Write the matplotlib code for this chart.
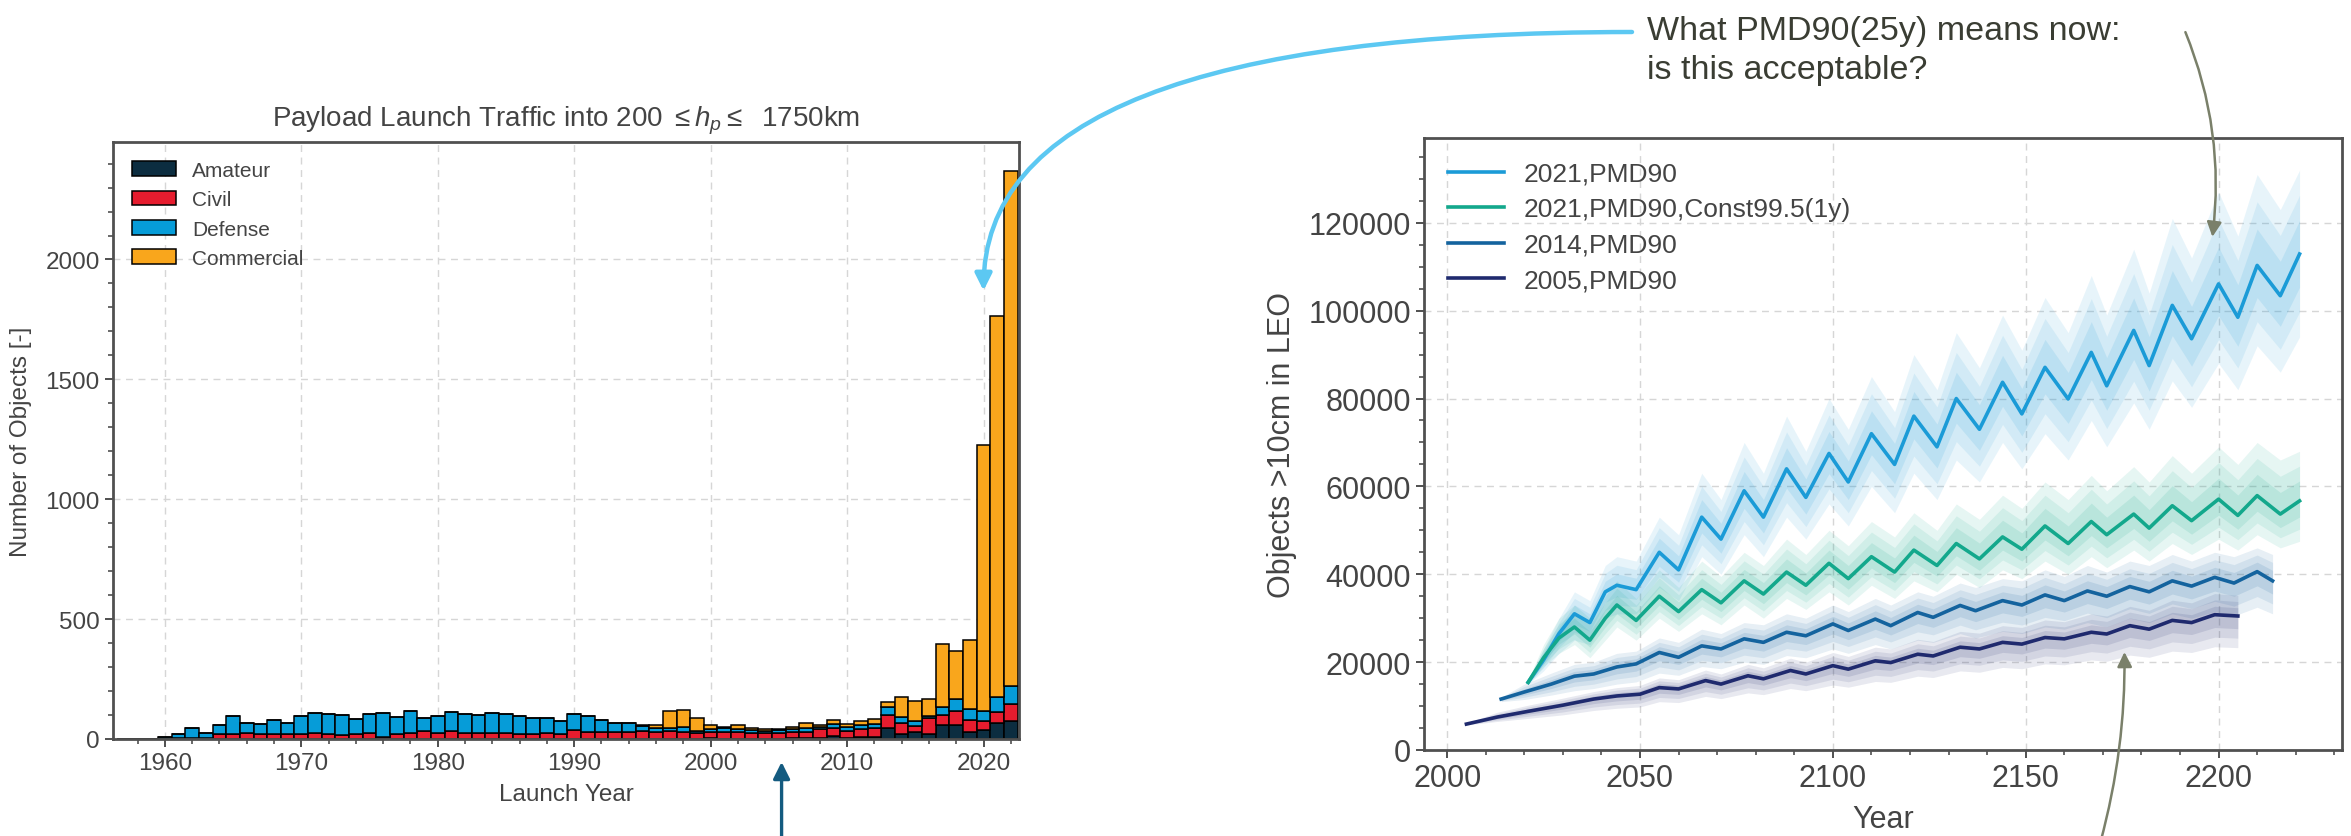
import matplotlib.pyplot as plt
import numpy as np
from matplotlib.ticker import MultipleLocator

plt.rcParams['font.family'] = ['Liberation Sans', 'DejaVu Sans']
plt.rcParams['mathtext.fontset'] = 'custom'
plt.rcParams['mathtext.rm'] = 'Liberation Sans'
plt.rcParams['mathtext.it'] = 'Liberation Sans:italic'

# ---------------- left panel: payload launches per year ----------------
launch_years = list(range(1957, 2023))
amateur = [0, 0, 0, 0, 1, 0, 1, 1, 1, 0,
           1, 0, 0, 1, 0, 1, 0, 1, 0, 0,
           1, 0, 0, 0, 0, 0, 0, 0, 0, 1,
           0, 1, 0, 1, 1, 0, 1, 0, 1, 0,
           1, 0, 0, 3, 2, 2, 2, 2, 2, 3,
           3, 6, 13, 6, 10, 10, 44, 22, 28, 20,
           58, 60, 30, 36, 68, 77]
civil = [0, 0, 0, 2, 3, 4, 3, 20, 20, 26,
         20, 20, 21, 19, 26, 20, 15, 19, 26, 8,
         20, 26, 32, 26, 32, 25, 25, 25, 25, 20,
         20, 25, 20, 35, 30, 31, 30, 31, 32, 31,
         32, 31, 26, 25, 29, 29, 24, 24, 22, 25,
         27, 34, 34, 29, 33, 36, 58, 46, 26, 66,
         42, 57, 48, 37, 43, 69]
defense = [0, 1, 1, 6, 18, 43, 22, 39, 75, 42,
           43, 58, 45, 78, 81, 82, 87, 62, 77, 99,
           72, 90, 57, 72, 82, 78, 74, 84, 80, 77,
           69, 63, 56, 67, 65, 47, 37, 37, 22, 16,
           14, 20, 7, 13, 14, 10, 10, 7, 12, 12,
           16, 11, 17, 14, 14, 18, 31, 24, 21, 8,
           34, 51, 46, 45, 65, 77]
commercial = [0, 0, 0, 0, 0, 0, 0, 0, 0, 0,
              0, 0, 0, 0, 0, 0, 0, 0, 0, 0,
              0, 0, 0, 0, 0, 0, 0, 0, 0, 0,
              0, 0, 0, 0, 0, 0, 0, 0, 4, 12,
              70, 70, 56, 18, 7, 16, 11, 7, 4, 12,
              22, 8, 14, 15, 20, 18, 22, 85, 85, 71,
              262, 198, 287, 1110, 1589, 2146]
categories = ['Amateur', 'Civil', 'Defense', 'Commercial']
cat_colors = ['#0c2d40', '#e61c2e', '#069cd8', '#f9a61c']

# ---------------- right panel: LEO population projections (thousands) ----------------
yrs_2021 = [2021, 2025, 2029, 2033, 2037, 2041, 2044, 2049, 2055, 2060,
            2066, 2071, 2077, 2082, 2088, 2093, 2099, 2104, 2110, 2116,
            2121, 2127, 2132, 2138, 2144, 2149, 2155, 2161, 2167, 2171,
            2178, 2182, 2188, 2193, 2200, 2205, 2210, 2216, 2221]
pmd90_2021 = [15.4, 20.5, 26.5, 31.0, 29.0, 36.0, 37.5, 36.5, 45.0, 41.0,
              53.0, 48.0, 59.0, 53.0, 64.0, 57.5, 67.5, 61.0, 72.0, 65.0,
              76.0, 69.0, 80.0, 73.0, 83.7, 76.5, 87.1, 79.9, 90.5, 82.9,
              95.5, 87.5, 101.2, 93.6, 106.1, 98.5, 110.3, 103.4, 112.9]
pmd90_2021_lo = [15.0, 18.0, 22.0, 25.0, 24.0, 30.0, 31.0, 31.0, 37.0, 34.0,
                 44.0, 40.0, 49.0, 44.0, 53.0, 48.0, 56.0, 51.0, 60.0, 54.0,
                 63.0, 57.0, 66.0, 61.0, 70.0, 64.0, 72.0, 66.0, 75.0, 69.0,
                 79.0, 73.0, 84.0, 78.0, 88.0, 82.0, 92.0, 86.0, 94.0]
pmd90_2021_hi = [16.0, 23.0, 30.0, 36.0, 34.0, 42.0, 44.0, 43.0, 53.0, 49.0,
                 63.0, 57.0, 70.0, 63.0, 76.0, 68.0, 80.0, 73.0, 85.0, 77.0,
                 90.0, 82.0, 95.0, 87.0, 99.0, 91.0, 103.0, 95.0, 108.0, 99.0,
                 114.0, 104.0, 121.0, 112.0, 127.0, 117.0, 131.0, 123.0, 132.0]
const_2021 = [15.4, 21.0, 25.5, 28.0, 25.0, 30.0, 33.0, 29.5, 35.0, 31.5,
              36.5, 33.5, 38.5, 35.5, 40.5, 37.5, 42.5, 39.0, 44.0, 40.5,
              45.5, 42.0, 47.0, 43.5, 48.5, 45.7, 51.0, 47.0, 52.0, 49.0,
              53.7, 50.5, 55.6, 52.2, 57.1, 53.4, 57.9, 53.7, 56.7]
const_2021_lo = [15.0, 19.0, 22.0, 24.0, 21.0, 25.0, 28.0, 25.0, 30.0, 27.0,
                 31.0, 28.5, 33.0, 30.0, 34.5, 32.0, 36.0, 33.0, 37.5, 34.5,
                 38.5, 36.0, 40.0, 37.0, 41.0, 39.0, 43.0, 40.0, 44.0, 41.5,
                 45.5, 43.0, 47.0, 44.5, 48.0, 45.5, 49.0, 46.0, 47.5]
const_2021_hi = [16.0, 24.0, 30.0, 33.0, 30.0, 35.0, 38.5, 34.5, 41.0, 37.0,
                 43.0, 39.5, 45.0, 42.0, 48.0, 44.5, 50.0, 46.5, 52.0, 48.5,
                 54.0, 50.0, 56.0, 52.5, 58.0, 55.0, 61.0, 57.0, 62.5, 59.0,
                 64.5, 61.0, 67.0, 63.0, 69.0, 65.0, 70.0, 66.0, 68.0]

yrs_2014 = [2014, 2020, 2027, 2033, 2038, 2044, 2049, 2055, 2060, 2066,
            2071, 2077, 2082, 2088, 2093, 2100, 2104, 2111, 2115, 2122,
            2126, 2133, 2137, 2144, 2149, 2155, 2160, 2166, 2171, 2177,
            2182, 2188, 2193, 2199, 2204, 2210, 2214]
pmd90_2014 = [11.6, 13.2, 15.0, 16.8, 17.3, 18.9, 19.6, 22.2, 21.1, 23.7,
              23.0, 25.3, 24.5, 26.8, 26.0, 28.7, 27.2, 29.8, 28.3, 31.3,
              30.2, 32.9, 31.7, 34.0, 33.0, 35.3, 34.0, 36.2, 35.0, 37.2,
              36.0, 38.5, 37.3, 39.3, 38.0, 40.6, 38.5]
pmd90_2014_lo = [11.0, 11.5, 12.5, 13.5, 14.0, 15.0, 15.5, 17.5, 17.0, 19.0,
                 18.5, 20.0, 19.5, 21.5, 21.0, 23.0, 22.0, 24.0, 23.0, 25.0,
                 24.5, 26.5, 25.5, 27.0, 26.5, 28.0, 27.5, 29.0, 28.0, 30.0,
                 29.0, 31.0, 30.0, 31.5, 30.5, 32.5, 31.0]
pmd90_2014_hi = [12.0, 15.0, 17.5, 19.5, 20.0, 22.0, 22.5, 25.5, 24.5, 27.5,
                 26.5, 29.0, 28.5, 31.0, 30.0, 33.0, 31.5, 34.5, 33.0, 36.0,
                 35.0, 38.0, 37.0, 39.0, 38.5, 41.0, 39.5, 42.0, 40.5, 43.0,
                 42.0, 44.5, 43.0, 45.0, 44.0, 46.0, 44.5]

yrs_2005 = [2005, 2013, 2021, 2030, 2038, 2044, 2050, 2055, 2060, 2067,
            2071, 2078, 2082, 2089, 2093, 2100, 2104, 2111, 2115, 2122,
            2126, 2133, 2138, 2144, 2149, 2155, 2160, 2167, 2171, 2177,
            2182, 2188, 2193, 2199, 2205]
pmd90_2005 = [5.9, 7.5, 8.8, 10.2, 11.6, 12.3, 12.7, 14.2, 13.9, 15.8,
              15.0, 16.9, 16.2, 18.1, 17.3, 19.2, 18.4, 20.3, 19.9, 21.8,
              21.4, 23.4, 23.0, 24.5, 24.1, 25.6, 25.3, 26.8, 26.4, 28.3,
              27.5, 29.5, 29.0, 30.8, 30.5]
pmd90_2005_lo = [5.7, 6.5, 7.2, 8.0, 9.0, 9.5, 9.8, 11.0, 10.8, 12.2,
                 11.7, 13.0, 12.6, 14.0, 13.5, 14.8, 14.3, 15.6, 15.4, 16.8,
                 16.5, 18.0, 17.7, 18.8, 18.5, 19.6, 19.4, 20.5, 20.2, 21.6,
                 21.1, 22.5, 22.2, 23.5, 23.3]
pmd90_2005_hi = [6.1, 8.6, 10.2, 11.8, 13.3, 14.2, 14.7, 16.4, 16.0, 18.2,
                 17.3, 19.5, 18.7, 20.9, 20.0, 22.2, 21.3, 23.4, 23.0, 25.2,
                 24.7, 27.0, 26.6, 28.3, 27.9, 29.6, 29.2, 31.0, 30.5, 32.7,
                 31.8, 34.1, 33.5, 35.6, 35.2]

scenario_labels = ['2021,PMD90', '2021,PMD90,Const99.5(1y)', '2014,PMD90', '2005,PMD90']
scenario_colors = ['#1b9bd7', '#13a88c', '#14639e', '#1f2a6e']

# ---------------- figure ----------------
W, H = 2351, 837
fig = plt.figure(figsize=(W / 100, H / 100), dpi=100)
ax1 = fig.add_axes([113 / W, 97 / H, 906 / W, 597 / H])
ax2 = fig.add_axes([1424 / W, 86 / H, 918 / W, 612 / H])

txt_col = '#444444'
spine_col = '#505050'


def style_axes(ax, lab_size):
    for s in ax.spines.values():
        s.set_color(spine_col)
        s.set_linewidth(2.0)
    ax.tick_params(which='both', direction='out', color=spine_col, labelcolor=txt_col,
                   labelsize=lab_size, top=False, right=False)
    ax.tick_params(which='major', length=6, width=1.4)
    ax.tick_params(which='minor', length=3.5, width=1.2)
    ax.grid(True, which='major', linestyle=(0, (5, 4)), color='#d6d6d6', linewidth=1.0)
    ax.set_axisbelow(True)


# left: stacked bars
bottom = np.zeros(len(launch_years))
for name, vals, col in zip(categories, [amateur, civil, defense, commercial], cat_colors):
    ax1.bar(launch_years, vals, width=1.0, bottom=bottom, color=col,
            edgecolor='black', linewidth=1.1, label=name)
    bottom = bottom + np.array(vals)

style_axes(ax1, 17.5)
ax1.set_xlim(1956.2, 2022.6)
ax1.set_ylim(0, 2490)
ax1.xaxis.set_major_locator(MultipleLocator(10))
ax1.xaxis.set_minor_locator(MultipleLocator(2))
ax1.yaxis.set_major_locator(MultipleLocator(500))
ax1.yaxis.set_minor_locator(MultipleLocator(100))
ax1.set_xlabel('Launch Year', fontsize=17.5, color=txt_col, labelpad=6)
ax1.set_ylabel('Number of Objects [-]', fontsize=17.5, color=txt_col, labelpad=10)
ax1.set_title(r'Payload Launch Traffic into 200 $\leq h_p \leq$  1750km',
              fontsize=20, color=txt_col, pad=12)
ax1.legend(loc='upper left', fontsize=15, frameon=False, handlelength=2.1,
           handleheight=0.7, labelcolor=txt_col)

# right: projections with ensemble spread (three shading layers to mimic the run cloud)
ens = [(yrs_2021, pmd90_2021, pmd90_2021_lo, pmd90_2021_hi),
       (yrs_2021, const_2021, const_2021_lo, const_2021_hi),
       (yrs_2014, pmd90_2014, pmd90_2014_lo, pmd90_2014_hi),
       (yrs_2005, pmd90_2005, pmd90_2005_lo, pmd90_2005_hi)]
for (yr, m, lo, hi), col in zip(ens, scenario_colors):
    yr = np.array(yr)
    m = np.array(m) * 1000
    lo = np.array(lo) * 1000
    hi = np.array(hi) * 1000
    for frac, a in [(1.0, 0.10), (0.7, 0.10), (0.4, 0.12)]:
        ax2.fill_between(yr, m - frac * (m - lo), m + frac * (hi - m),
                         color=col, alpha=a, linewidth=0)
for (yr, m, lo, hi), col, lab in zip(ens, scenario_colors, scenario_labels):
    ax2.plot(yr, np.array(m) * 1000, color=col, lw=2.6, label=lab)

style_axes(ax2, 22)
ax2.set_xlim(1994, 2232)
ax2.set_ylim(0, 139300)
ax2.xaxis.set_major_locator(MultipleLocator(50))
ax2.xaxis.set_minor_locator(MultipleLocator(10))
ax2.yaxis.set_major_locator(MultipleLocator(20000))
ax2.yaxis.set_minor_locator(MultipleLocator(5000))
ax2.set_xlabel('Year', fontsize=22, color=txt_col, labelpad=8)
ax2.set_ylabel('Objects >10cm in LEO', fontsize=22, color=txt_col, labelpad=8)
ax2.legend(loc='upper left', fontsize=19, frameon=False, handlelength=2.15,
           labelspacing=0.44, handletextpad=0.72, labelcolor=txt_col)

# annotations
fig.text(1647 / W, 1 - 51 / H, 'What PMD90(25y) means now:\nis this acceptable?',
         fontsize=24.5, color='#3a3d33', ha='left', va='center', linespacing=1.35)

ax1.annotate('', xy=(2020, 1870), xycoords='data',
             xytext=(1632 / W, 804 / H), textcoords='figure fraction',
             arrowprops=dict(arrowstyle='-|>', color='#5cc8f2', lw=3.2,
                             connectionstyle='angle3,angleA=0,angleB=90',
                             shrinkA=0, shrinkB=0, mutation_scale=25),
             annotation_clip=False)
ax1.annotate('', xy=(2005.2, -0.0385), xycoords=('data', 'axes fraction'),
             xytext=(2005.2, -0.17), textcoords=('data', 'axes fraction'),
             arrowprops=dict(arrowstyle='-|>', color='#145b80', lw=2.4,
                             shrinkA=0, shrinkB=0, mutation_scale=25),
             annotation_clip=False)
ax2.annotate('', xy=(2198.4, 116800), xycoords='data',
             xytext=(2191.4, 1.173), textcoords=('data', 'axes fraction'),
             arrowprops=dict(arrowstyle='-|>', color='#7a806a', lw=1.8,
                             connectionstyle='arc3,rad=-0.13',
                             shrinkA=0, shrinkB=0, mutation_scale=22),
             annotation_clip=False)
ax2.annotate('', xy=(2175.6, 22300), xycoords='data',
             xytext=(2169.4, -0.15), textcoords=('data', 'axes fraction'),
             arrowprops=dict(arrowstyle='-|>', color='#7a806a', lw=1.8,
                             connectionstyle='arc3,rad=0.07',
                             shrinkA=0, shrinkB=0, mutation_scale=22),
             annotation_clip=False)

fig.savefig('out.png', dpi=100)
